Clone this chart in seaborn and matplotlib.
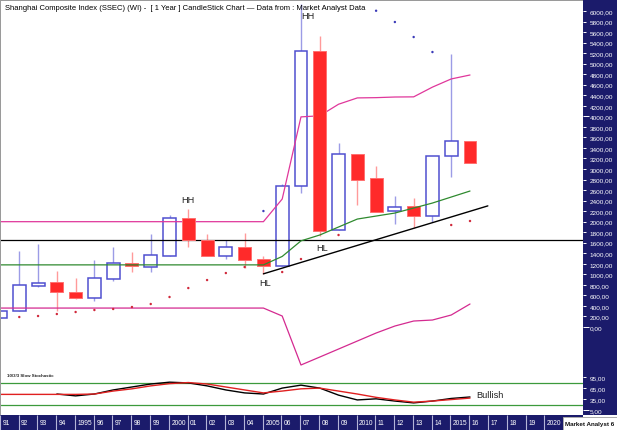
import numpy as np
import pandas as pd
import matplotlib
matplotlib.use('Agg')
import matplotlib.pyplot as plt
from matplotlib.patches import Rectangle
from matplotlib.ticker import FuncFormatter
import seaborn as sns

sns.set_theme(style='white')
plt.rcParams['font.family'] = ['Liberation Sans', 'DejaVu Sans']

# ---------------- data ----------------
years = list(range(1991, 2017))
opens  = [180, 298, 775, 849, 659, 550, 911, 1209, 1145, 1354, 2064, 1652, 1354, 1513, 1291,
          1152, 2671, 5246, 1842, 3285, 2829, 2209, 2291, 2102, 3253, 3537]
highs  = [298, 1449, 1570, 1069, 930, 1272, 1513, 1430, 1766, 2126, 2240, 1766, 1658, 1785, 1342,
          2715, 6124, 5531, 3494, 3285, 3063, 2493, 2443, 3241, 5183, 3537]
lows   = [180, 298, 760, 310, 532, 500, 879, 1038, 1038, 1354, 1513, 1354, 1291, 1114, 1006,
          1152, 2545, 1722, 1842, 2322, 2190, 1956, 1874, 1988, 2842, 3114]
closes = [298, 797, 845, 659, 556, 925, 1209, 1152, 1367, 2064, 1652, 1354, 1513, 1272, 1152,
          2683, 5246, 1828, 3285, 2797, 2190, 2278, 2102, 3241, 3537, 3114]

band_upper = [2000] * 15 + [2430, 3990, 4010, 4230, 4350, 4355, 4367, 4370, 4555, 4710, 4785]
band_mid   = [1180] * 15 + [1340, 1636, 1747, 1899, 2050, 2107, 2164, 2259, 2354, 2468, 2582]
band_lower = [360] * 15 + [209, -721, -570, -418, -266, -114, 19, 114, 133, 228, 437]

sar_years  = [1992, 1993, 1994, 1995, 1996, 1997, 1998, 1999, 2000, 2001, 2002, 2003, 2004,
              2005, 2006, 2007, 2009, 2011, 2012, 2013, 2014, 2015, 2016]
sar_values = [190, 209, 247, 285, 323, 342, 380, 437, 570, 740, 892, 1025, 1139,
              2202, 1044, 1291, 1747, 6005, 5791, 5506, 5221, 1937, 2013]
sar_side   = ['up'] * 13 + ['down', 'up', 'up', 'up', 'down', 'down', 'down', 'down', 'up', 'up']

support_level = 1660
trend_years = [2005.0, 2016.95]
trend_values = [1010, 2300]

stoch_k = [np.nan, np.nan, np.nan, 49, 44, 49, 60, 68, 76, 81, 79, 71, 60, 52, 49,
           65, 73, 65, 46, 33, 36, 30, 25, 30, 37, 41]
stoch_d = [48, 48, 48, 48, 48, 49, 57, 63, 71, 77, 80, 76, 68, 60, 52,
           57, 63, 65, 57, 49, 40, 33, 27, 30, 34, 38]
stoch_levels = [80, 20]

axis_years = list(range(1991, 2021))
axis_labels = ['91', '92', '93', '94', '1995', '96', '97', '98', '99', '2000',
               '01', '02', '03', '04', '2005', '06', '07', '08', '09', '2010',
               '11', '12', '13', '14', '2015', '16', '17', '18', '19', '2020']

title = 'Shanghai Composite Index (SSEC) (WI) -  [ 1 Year ] CandleStick Chart \u2014 Data from : Market Analyst Data'

# ---------------- layout ----------------
W, H = 617, 431
fig = plt.figure(figsize=(W / 100, H / 100), dpi=100)
fig.patch.set_facecolor('white')
NAVY = '#1b1b6b'


def fx(px):
    return px / W


def fy(py):
    return 1 - py / H


PX_PER_YEAR = 18.78
X0 = 2016 - 470 / PX_PER_YEAR
X1 = 2016 + 113 / PX_PER_YEAR

fig.add_artist(Rectangle((fx(583), fy(416)), fx(617) - fx(583), fy(0) - fy(416),
                         transform=fig.transFigure, facecolor=NAVY, edgecolor='none', zorder=0))

ax = fig.add_axes([0, fy(370), fx(583), fy(2) - fy(370)])
ax2 = fig.add_axes([0, fy(416), fx(583), fy(370) - fy(416)])
axx = fig.add_axes([0, 0, fx(583), fy(416)])

fmt = FuncFormatter(lambda v, p: f'{v:.2f}'.replace('.', ','))

for a in (ax, ax2, axx):
    a.set_xlim(X0, X1)
    for s in a.spines.values():
        s.set_visible(False)
    a.set_xticks([])
    a.set_facecolor('white')

# ---------------- main panel ----------------
ax.set_ylim(-797, 6190)

BLUE_EDGE = '#4f4fd0'
BLUE_WICK = '#9c9ce6'
RED_FILL = '#ff2a2a'
RED_EDGE = '#ff7070'
RED_WICK = '#ff9a9a'

for yr, o, h, l, c in zip(years, opens, highs, lows, closes):
    up = c >= o
    ax.vlines(yr, l, h, colors=BLUE_WICK if up else RED_WICK, linewidth=1.0, zorder=1)
    if up:
        ax.bar(yr, c - o, bottom=o, width=0.69, facecolor='white', edgecolor=BLUE_EDGE,
               linewidth=1.1, zorder=2)
    else:
        ax.bar(yr, c - o, bottom=o, width=0.69, facecolor=RED_FILL, edgecolor=RED_EDGE,
               linewidth=0.7, zorder=4)

sns.lineplot(x=years, y=band_upper, ax=ax, color='#e0379b', linewidth=0.9, zorder=3,
             estimator=None, sort=False, legend=False)
sns.lineplot(x=years, y=band_lower, ax=ax, color='#d42a90', linewidth=0.9, zorder=3,
             estimator=None, sort=False, legend=False)
sns.lineplot(x=years, y=band_mid, ax=ax, color='#2f8a2f', linewidth=0.9, zorder=5,
             estimator=None, sort=False, legend=False)

ax.axhline(support_level, color='black', linewidth=0.9, zorder=3)
sns.lineplot(x=trend_years, y=trend_values, ax=ax, color='black', linewidth=1.0, zorder=3,
             estimator=None, sort=False, legend=False)

sar_df = pd.DataFrame({'year': sar_years, 'value': sar_values, 'side': sar_side})
sns.scatterplot(data=sar_df, x='year', y='value', hue='side',
                palette={'up': '#d0283a', 'down': '#3a3ab8'}, s=3, linewidth=0,
                ax=ax, legend=False, zorder=6)

ax.text(2000.96, 2417, 'HH', fontsize=6.6, ha='center', va='center', color='#222222')
ax.text(2007.37, 5924, 'HH', fontsize=6.6, ha='center', va='center', color='#222222')
ax.text(2005.08, 849, 'HL', fontsize=6.6, ha='center', va='center', color='#222222')
ax.text(2008.10, 1519, 'HL', fontsize=6.6, ha='center', va='center', color='#222222')

ax.yaxis.tick_right()
ax.set_yticks([0, 4000])
ax.set_yticks([v for v in range(200, 6001, 200) if v != 4000], minor=True)
ax.yaxis.set_major_formatter(fmt)
ax.yaxis.set_minor_formatter(fmt)
ax.tick_params(axis='y', which='major', length=4.3, width=0.7, colors='white',
               labelsize=4.6, pad=0.6, right=True, left=False, labelright=True, labelleft=False)
ax.tick_params(axis='y', which='minor', length=2.2, width=0.7, colors='white',
               labelsize=4.6, pad=2.7, right=True, left=False, labelright=True, labelleft=False)
ax.set_xlabel('')
ax.set_ylabel('')

# ---------------- stochastic panel ----------------
ax2.set_ylim(-7.7, 116.6)
for lv in stoch_levels:
    ax2.axhline(lv, color='#3c9a3c', linewidth=0.9, zorder=1)
sns.lineplot(x=years, y=stoch_d, ax=ax2, color='#e02020', linewidth=1.0, zorder=3,
             estimator=None, sort=False, legend=False)
sns.lineplot(x=years, y=stoch_k, ax=ax2, color='black', linewidth=1.0, zorder=2,
             estimator=None, sort=False, legend=False)
ax2.text(7 / 583, 0.87, '10/3/3 Slow Stochastic', transform=ax2.transAxes, fontsize=3.2,
         fontweight='bold', ha='left', va='center', color='#222222')
ax2.text(2016 + 6 / PX_PER_YEAR, 46.4, 'Bullish', fontsize=6.6, ha='left', va='center',
         color='#222222')
ax2.yaxis.tick_right()
ax2.set_yticks([5])
ax2.set_yticks([35, 65, 95], minor=True)
ax2.yaxis.set_major_formatter(fmt)
ax2.yaxis.set_minor_formatter(fmt)
ax2.tick_params(axis='y', which='major', length=4.3, width=0.7, colors='white',
                labelsize=4.6, pad=0.6, right=True, left=False, labelright=True, labelleft=False)
ax2.tick_params(axis='y', which='minor', length=2.2, width=0.7, colors='white',
                labelsize=4.6, pad=2.7, right=True, left=False, labelright=True, labelleft=False)
ax2.set_xlabel('')
ax2.set_ylabel('')

# ---------------- date strip ----------------
axx.set_facecolor(NAVY)
axx.set_ylim(0, 1)
axx.set_yticks([])
axx.vlines([y - 0.04 for y in axis_years], 0, 1, colors='#b4b4d8', linewidth=0.8)
for yr, lab in zip(axis_years, axis_labels):
    axx.text(yr + 0.1, 0.47, lab, color='white', fontsize=4.8, ha='left', va='center')

axm = fig.add_axes([fx(563), 0, fx(617) - fx(563), fy(418)])
axm.set_facecolor('white')
axm.set_xticks([])
axm.set_yticks([])
for s in axm.spines.values():
    s.set_color('#888888')
    s.set_linewidth(0.5)
axm.text(0.03, 0.5, 'Market Analyst 6', transform=axm.transAxes, fontsize=4.5,
         fontweight='bold', ha='left', va='center', color='#111111')

# ---------------- frame & title ----------------
fig.add_artist(Rectangle((0, fy(1.6)), fx(583), fy(0) - fy(1.6), transform=fig.transFigure,
                         facecolor='#9a9a9a', edgecolor='none', zorder=10))
fig.add_artist(Rectangle((0, fy(416)), fx(1.2), fy(0) - fy(416), transform=fig.transFigure,
                         facecolor='#9a9a9a', edgecolor='none', zorder=10))
fig.text(fx(5), fy(8), title, fontsize=5.5, ha='left', va='center', color='black', zorder=11)

fig.savefig('out.png', dpi=100)
